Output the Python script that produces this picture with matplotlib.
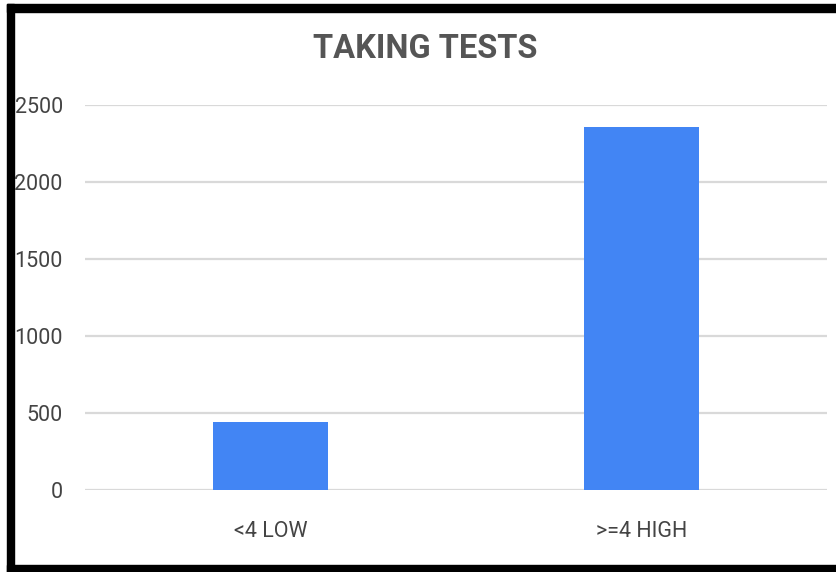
import matplotlib.pyplot as plt
from matplotlib.patches import Rectangle

categories = ['<4 LOW', '>=4 HIGH']
counts = [440, 2360]
y_ticks = [0, 500, 1000, 1500, 2000, 2500]

fig = plt.figure(figsize=(8.37, 5.72), dpi=100)
ax = fig.add_axes([0.1016, 0.1434, 0.8865, 0.673])

ax.bar(range(len(categories)), counts, width=0.31, color='#4285F4', zorder=3)
ax.set_xlim(-0.5, len(categories) - 0.5)
ax.set_ylim(0, 2500)
ax.set_yticks(y_ticks)
ax.set_xticks(range(len(categories)))
ax.set_xticklabels(categories)

for lab in ax.get_yticklabels() + ax.get_xticklabels():
    lab.set_fontfamily(['Roboto', 'DejaVu Sans'])
    lab.set_fontsize(15.5)
    lab.set_color('#444444')

ax.tick_params(axis='y', length=0, pad=16)
ax.tick_params(axis='x', length=0, pad=22)
ax.grid(axis='y', color='#d9d9d9', lw=1.6, zorder=0)
ax.set_axisbelow(True)
for s in ax.spines.values():
    s.set_visible(False)

fig.text(0.508, 0.915, 'TAKING TESTS', ha='center', va='center',
         fontsize=23.5, fontweight='bold', color='#555555',
         family=['Roboto', 'DejaVu Sans'])

# thick black frame on left, top and bottom
W, H = 837, 572
frame = dict(color='black', transform=fig.transFigure, figure=fig, zorder=10)
fig.patches.append(Rectangle((7 / W, 0), 7 / W, 1 - 4 / H, **frame))
fig.patches.append(Rectangle((7 / W, 1 - 12 / H), 1, 8 / H, **frame))
fig.patches.append(Rectangle((7 / W, 0), 1, 7 / H, **frame))

fig.savefig('out.png', dpi=100)
